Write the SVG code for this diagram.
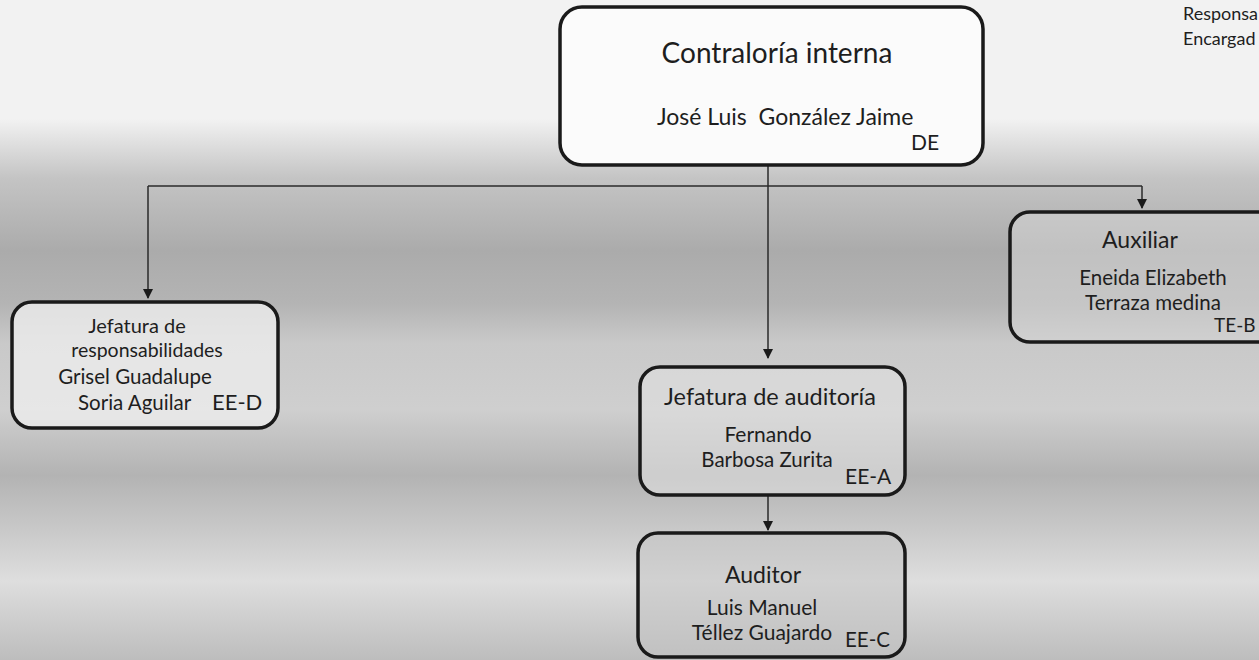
<svg xmlns="http://www.w3.org/2000/svg" width="1259" height="660" viewBox="0 0 1259 660">
<defs>
<linearGradient id="bg" x1="0" y1="0" x2="0" y2="1">
<stop offset="0" stop-color="#f2f2f2"/>
<stop offset="0.18" stop-color="#f2f2f2"/>
<stop offset="0.27" stop-color="#c4c4c4"/>
<stop offset="0.38" stop-color="#ababab"/>
<stop offset="0.46" stop-color="#b4b4b4"/>
<stop offset="0.52" stop-color="#c9c9c9"/>
<stop offset="0.62" stop-color="#cfcfcf"/>
<stop offset="0.72" stop-color="#b3b3b3"/>
<stop offset="0.80" stop-color="#c8c8c8"/>
<stop offset="0.88" stop-color="#dedede"/>
<stop offset="1" stop-color="#bdbdbd"/>
</linearGradient>
<marker id="arr" markerWidth="10" markerHeight="10" refX="9" refY="5" orient="auto" markerUnits="userSpaceOnUse">
<path d="M0,0 L10,5 L0,10 Z" fill="#1a1a1a"/>
</marker>
</defs>
<style>
.box{stroke:#1a1a1a;stroke-width:3.5;}
.t{font-family:"Lato","Open Sans",sans-serif;fill:#1e1e1e;}
.c{stroke:#2a2a2a;stroke-width:1.5;fill:none;}
</style>
<rect x="0" y="0" width="1259" height="660" fill="url(#bg)"/>

<g id="connectors">
<path class="c" d="M768,166 V358" marker-end="url(#arr)"/>
<path class="c" d="M148,186 H1142"/>
<path class="c" d="M148,186 V298" marker-end="url(#arr)"/>
<path class="c" d="M1142,186 V208" marker-end="url(#arr)"/>
<path class="c" d="M768,495 V530" marker-end="url(#arr)"/>
</g>

<g id="contraloria">
<rect class="box" x="560" y="7" width="423" height="158" rx="22" fill="#fbfbfb"/>
<text class="t" x="777" y="63" font-size="28" text-anchor="middle">Contraloría interna</text>
<text class="t" x="657" y="125" font-size="23" xml:space="preserve">José Luis  González Jaime</text>
<text class="t" x="911" y="150" font-size="21">DE</text>
</g>

<g id="jefatura-responsabilidades">
<rect class="box" x="12" y="302" width="266" height="126" rx="20" fill="#ececec" fill-opacity="0.8"/>
<text class="t" x="137" y="333" font-size="20" text-anchor="middle">Jefatura de</text>
<text class="t" x="147" y="357" font-size="19.5" text-anchor="middle">responsabilidades</text>
<text class="t" x="135" y="384" font-size="20.5" text-anchor="middle">Grisel Guadalupe</text>
<text class="t" x="78" y="410" font-size="20.5">Soria Aguilar</text>
<text class="t" x="212" y="410" font-size="22">EE-D</text>
</g>

<g id="auxiliar">
<rect class="box" x="1010" y="212" width="270" height="130" rx="20" fill="#d8d8d8" fill-opacity="0.5"/>
<text class="t" x="1140" y="248" font-size="23" text-anchor="middle">Auxiliar</text>
<text class="t" x="1153" y="285" font-size="20.5" text-anchor="middle">Eneida Elizabeth</text>
<text class="t" x="1153" y="310" font-size="20.5" text-anchor="middle">Terraza medina</text>
<text class="t" x="1214" y="332" font-size="19">TE-B</text>
</g>

<g id="jefatura-auditoria">
<rect class="box" x="640" y="367" width="265" height="128" rx="20" fill="#e0e0e0" fill-opacity="0.6"/>
<text class="t" x="770" y="405" font-size="23.5" text-anchor="middle">Jefatura de auditoría</text>
<text class="t" x="768" y="442" font-size="21" text-anchor="middle">Fernando</text>
<text class="t" x="767" y="467" font-size="20.5" text-anchor="middle">Barbosa Zurita</text>
<text class="t" x="845" y="484" font-size="21">EE-A</text>
</g>

<g id="auditor">
<rect class="box" x="638" y="533" width="267" height="124" rx="20" fill="#c4c4c4" fill-opacity="0.5"/>
<text class="t" x="763" y="583" font-size="23" text-anchor="middle">Auditor</text>
<text class="t" x="762" y="615" font-size="21" text-anchor="middle">Luis Manuel</text>
<text class="t" x="762" y="640" font-size="21" text-anchor="middle">Téllez Guajardo</text>
<text class="t" x="845" y="647" font-size="20.5">EE-C</text>
</g>

<g id="legend">
<text class="t" x="1183" y="20" font-size="18">Responsa</text>
<text class="t" x="1183" y="45" font-size="18">Encargad</text>
</g>
</svg>
